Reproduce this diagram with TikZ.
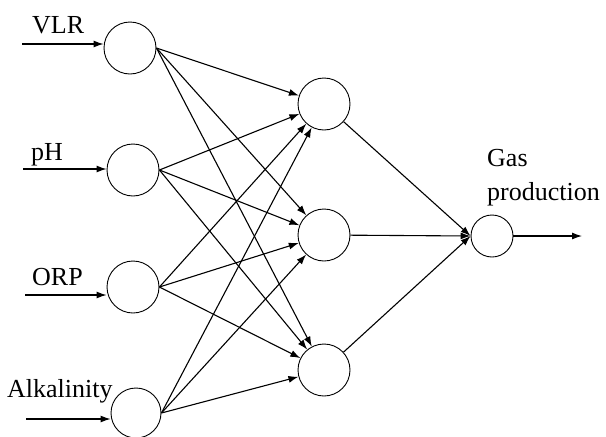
\documentclass[tikz,border=0pt]{standalone}
\usepackage{fontspec}
\setmainfont{Liberation Serif}
\usetikzlibrary{arrows.meta}
\begin{document}
\begin{tikzpicture}[x=1pt,y=-1pt,
  neuron/.style={draw,circle,line width=0.9pt,inner sep=0pt,minimum size=52pt},
  outneuron/.style={neuron,minimum size=42pt},
  link/.style={line width=1.1pt,-{Latex[length=10pt,width=7pt]}},
  lbl/.style={inner sep=0pt,anchor=base west,font=\fontsize{26}{31}\selectfont}]
\useasboundingbox (0,0) rectangle (606,437);

% input layer
\node[neuron] (i1) at (130,48) {};
\node[neuron] (i2) at (133,170) {};
\node[neuron] (i3) at (133,287) {};
\node[neuron,minimum size=50pt] (i4) at (136,413) {};

% hidden layer
\node[neuron] (h1) at (324,104) {};
\node[neuron] (h2) at (324,235) {};
\node[neuron] (h3) at (324,370) {};

% output neuron
\node[outneuron] (o) at (492,236) {};

% input feeds
\coordinate (s1) at (22,44);
\coordinate (s2) at (23,169);
\coordinate (s3) at (25,295);
\coordinate (s4) at (26,419);
\draw[link] (s1) -- (i1.west |- s1);
\draw[link] (s2) -- (i2.west |- s2);
\draw[link] (s3) -- (i3.west |- s3);
\draw[link] (s4) -- (i4.west |- s4);

% input labels
\node[lbl] (t1) at (32,33) {VLR};
\node[lbl] (t2) at (31,160) {pH};
\node[lbl] (t3) at (32,285) {ORP};
\node[lbl] (t4) at (7,397) {Alkalinity};

% input to hidden connections
\foreach \i in {1,2,3,4}
  \foreach \h in {1,2,3}
    \draw[link] (i\i.east) -- (h\h);

% hidden to output connections
\foreach \h in {1,2,3}
  \draw[link] (h\h) -- (o.west);

% output
\coordinate (out) at (582,236);
\draw[link] (o.east) -- (out);
\node[lbl] (g1) at (487,166) {Gas};
\node[lbl] (g2) at (487,200) {production};
\end{tikzpicture}
\end{document}
